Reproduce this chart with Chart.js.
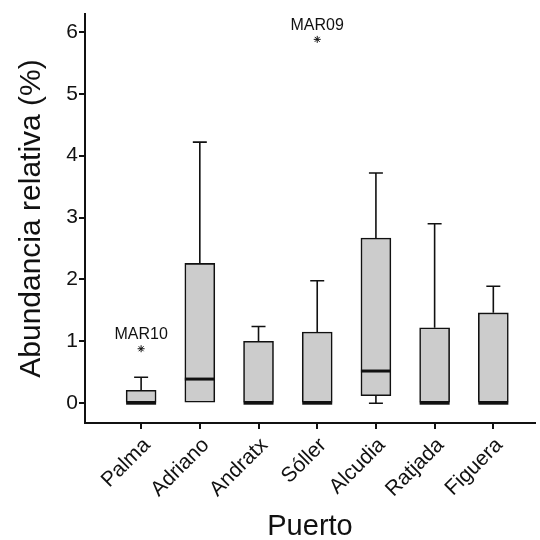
<!DOCTYPE html>
<html>
<head>
<meta charset="utf-8">
<script src="https://cdn.jsdelivr.net/npm/chart.js@4"></script>
<style>
  body { margin: 0; background: #fff; }
  #wrap { width: 540px; height: 540px; }
</style>
</head>
<body>
<div id="wrap"><canvas id="boxChart" width="540" height="540"></canvas></div>
<script>
// ---------------------- data ----------------------
const categories = ['Palma', 'Adriano', 'Andratx', 'Sóller', 'Alcudia', 'Ratjada', 'Figuera'];
const whiskerLow  = [0, 0, 0, 0, 0, 0, 0];
const q1          = [0, 0, 0, 0, 0.12, 0, 0];
const median      = [0, 0.39, 0, 0, 0.52, 0, 0];
const q3          = [0.21, 2.26, 1.0, 1.15, 2.67, 1.22, 1.46];
const whiskerHigh = [0.42, 4.22, 1.24, 1.98, 3.72, 2.9, 1.89];

// outliers (category index, value, label)
const outlierCat    = [0, 3];
const outlierVal    = [0.88, 5.88];
const outlierLabels = ['MAR10', 'MAR09'];

const yTicks = [0, 1, 2, 3, 4, 5, 6];

const ink = '#111111';

// ---------------------- whiskers, caps, medians, labels ----------------------
const boxExtras = {
  id: 'boxExtras',
  afterDatasetsDraw(chart) {
    const ctx = chart.ctx;
    const x = chart.scales.x;
    const y = chart.scales.y;
    const cap = 7;
    const half = 15;
    ctx.save();
    ctx.strokeStyle = ink;
    ctx.lineCap = 'butt';
    for (let i = 0; i < categories.length; i++) {
      const px = x.getPixelForValue(i);
      ctx.lineWidth = 1.6;
      // upper whisker
      if (whiskerHigh[i] > q3[i]) {
        ctx.beginPath();
        ctx.moveTo(px, y.getPixelForValue(q3[i]));
        ctx.lineTo(px, y.getPixelForValue(whiskerHigh[i]));
        ctx.moveTo(px - cap, y.getPixelForValue(whiskerHigh[i]));
        ctx.lineTo(px + cap, y.getPixelForValue(whiskerHigh[i]));
        ctx.stroke();
      }
      // lower whisker
      if (whiskerLow[i] < q1[i]) {
        ctx.beginPath();
        ctx.moveTo(px, y.getPixelForValue(q1[i]));
        ctx.lineTo(px, y.getPixelForValue(whiskerLow[i]));
        ctx.moveTo(px - cap, y.getPixelForValue(whiskerLow[i]));
        ctx.lineTo(px + cap, y.getPixelForValue(whiskerLow[i]));
        ctx.stroke();
      }
      // median
      ctx.lineWidth = 3;
      ctx.beginPath();
      ctx.moveTo(px - half, y.getPixelForValue(median[i]));
      ctx.lineTo(px + half, y.getPixelForValue(median[i]));
      ctx.stroke();
    }
    // outlier labels
    ctx.fillStyle = ink;
    ctx.font = '16px "Liberation Sans", Arial, sans-serif';
    ctx.textAlign = 'center';
    ctx.textBaseline = 'bottom';
    for (let k = 0; k < outlierCat.length; k++) {
      ctx.fillText(outlierLabels[k],
        x.getPixelForValue(outlierCat[k]),
        y.getPixelForValue(outlierVal[k]) - 6);
    }
    ctx.restore();
  }
};

const boxData = categories.map((c, i) => ({ x: i, y: [q1[i], q3[i]] }));
const outlierData = outlierCat.map((c, k) => ({ x: c, y: outlierVal[k] }));

const font = '"Liberation Sans", Arial, sans-serif';

new Chart(document.getElementById('boxChart'), {
  type: 'bar',
  data: {
    datasets: [
      {
        type: 'bar',
        data: boxData,
        backgroundColor: '#cccccc',
        borderColor: ink,
        borderWidth: 1.6,
        borderSkipped: false,
        barThickness: 30
      },
      {
        type: 'scatter',
        data: outlierData,
        pointStyle: 'star',
        radius: 3.5,
        borderColor: ink,
        borderWidth: 1,
        backgroundColor: ink
      }
    ]
  },
  options: {
    responsive: false,
    animation: false,
    layout: { padding: { top: 14, right: 0, left: 0, bottom: 0 } },
    plugins: {
      legend: { display: false },
      tooltip: { enabled: false }
    },
    scales: {
      x: {
        type: 'linear',
        min: -0.956,
        max: 6.71,
        offset: false,
        afterBuildTicks: (s) => { s.ticks = categories.map((c, i) => ({ value: i })); },
        afterFit: (s) => { s.height = 117; s.paddingLeft = 0; s.paddingRight = 0; },
        ticks: {
          color: ink,
          font: { family: font, size: 21 },
          minRotation: 45,
          maxRotation: 45,
          padding: 4,
          labelOffset: 6,
          callback: (v) => categories[v]
        },
        grid: { offset: false, drawOnChartArea: false, drawTicks: true, tickLength: 6, color: ink, lineWidth: 2 },
        border: { display: true, color: ink, width: 2 },
        title: {
          display: true,
          text: 'Puerto',
          color: ink,
          font: { family: font, size: 29, lineHeight: 0.9 },
          padding: { top: 0, bottom: 0 }
        }
      },
      y: {
        min: -0.32,
        max: 6.29,
        afterBuildTicks: (s) => { s.ticks = yTicks.map(v => ({ value: v })); },
        afterFit: (s) => { s.width = 85; },
        ticks: {
          color: ink,
          font: { family: font, size: 21 },
          padding: 1
        },
        grid: { drawOnChartArea: false, drawTicks: true, tickLength: 6, color: ink, lineWidth: 2 },
        border: { display: true, color: ink, width: 2 },
        title: {
          display: true,
          text: 'Abundancia relativa (%)',
          color: ink,
          font: { family: font, size: 30, lineHeight: 1 },
          padding: { top: 17, bottom: 0 }
        }
      }
    }
  },
  plugins: [boxExtras]
});
</script>
</body>
</html>
